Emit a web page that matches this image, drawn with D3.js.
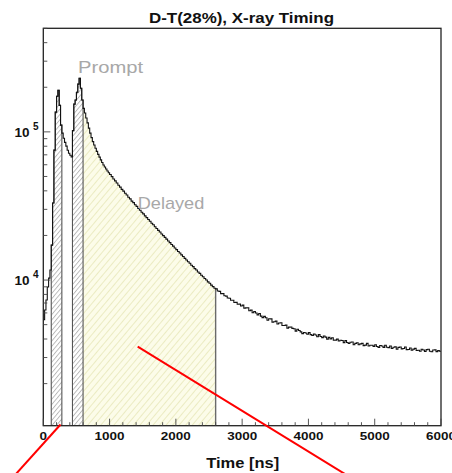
<!DOCTYPE html>
<html>
<head>
<meta charset="utf-8">
<script src="https://cdn.jsdelivr.net/npm/d3@7"></script>
<style>
  body { margin: 0; background: #fff; }
  text { font-family: "Liberation Sans", Arial, Helvetica, sans-serif; }
</style>
</head>
<body>
<svg id="chart" width="452" height="473"></svg>
<script>
// histogram counts: 0-1000 ns at 20 ns bins, 1000-6000 ns at 25 ns bins
var earlyStart = 0, earlyWidth = 20;
var earlyCounts = [
  5400, 6280, 7330, 8970, 10300, 11700, 17200, 33100, 75300, 136000,
  174000, 191000, 151000, 111000, 98000, 90600, 85000, 80100, 75100, 71800,
  69600, 67600, 102000, 154000, 164000, 185000, 210000, 230000, 197000, 164000,
  144000, 134000, 124000, 115000, 106000, 98000, 91500, 86000, 81500, 77500,
  73800, 70500, 67500, 64700, 62100, 59800, 57900, 56100, 54500, 53000
];
var lateStart = 1000, lateWidth = 25;
var lateCounts = [
  // 1000-2000
  51500, 49900, 48100, 46700, 45200, 43600, 42400, 40900, 39800, 38500,
  37500, 36200, 35300, 34100, 33300, 32200, 31400, 30400, 29600, 28700,
  27950, 27100, 26400, 25600, 24950, 24200, 23600, 22900, 22300, 21650,
  21100, 20450, 19950, 19400, 18900, 18330, 17900, 17370, 16950, 16450,
  // 2000-3000
  16050, 15580, 15210, 14780, 14420, 14010, 13670, 13280, 12970, 12600,
  12310, 11950, 11680, 11340, 11100, 10780, 10530, 10240, 10010, 9720,
  9510, 9240, 9030, 8800, 8720, 8440, 8380, 8100, 8100, 7830,
  7790, 7560, 7540, 7300, 7300, 7060, 7070, 6870, 6880, 6680,
  // 3000-4000
  6770, 6460, 6490, 6500, 6200, 6270, 6010, 6140, 5990, 5820,
  5940, 5710, 5580, 5690, 5570, 5360, 5480, 5470, 5200, 5230,
  5280, 5050, 5130, 5150, 4940, 4930, 4960, 4740, 4810, 4820,
  4720, 4690, 4520, 4650, 4570, 4470, 4350, 4430, 4390, 4310,
  // 4000-5000
  4420, 4280, 4220, 4320, 4260, 4140, 4280, 4160, 4090, 4190,
  4120, 3990, 4100, 4010, 4080, 3920, 3930, 3990, 3880, 3920,
  3910, 3780, 3900, 3790, 3730, 3800, 3820, 3660, 3740, 3770,
  3660, 3710, 3740, 3610, 3640, 3740, 3590, 3630, 3630, 3570,
  // 5000-6000
  3660, 3560, 3510, 3620, 3590, 3510, 3630, 3520, 3500, 3590,
  3450, 3520, 3540, 3410, 3510, 3530, 3430, 3450, 3530, 3390,
  3400, 3480, 3360, 3420, 3460, 3350, 3360, 3310, 3410, 3370,
  3300, 3390, 3410, 3310, 3280, 3370, 3380, 3290, 3340, 3310
];

var promptWindows = [[120, 280], [440, 600]];
var delayedWindow = [600, 2600];

var xDomain = [0, 6000];
var yDomain = [1040, 500000];
var xTickLabels = [0, 1000, 2000, 3000, 4000, 5000, 6000];
var yTickLabels = [1e4, 1e5];

var labelText = ["Prompt", "Delayed"];
var labelTime = [525, 1425];
var labelCount = [248000, 30000];

// red annotation strokes, [time, counts] pairs
var redStrokes = [
  [[260, 1060], [-440, 476]],
  [[1424, 3550], [4600, 476]]
];

var svg = d3.select("#chart");
var frameL = 43.3, frameR = 441, frameT = 28.3, frameB = 425.7;

var x = d3.scaleLinear().domain(xDomain).range([frameL, frameR]);
var y = d3.scaleLog().domain(yDomain).range([frameB, frameT]);

// build bins
var bins = [];
function addBins(start, width, counts) {
  counts.forEach(function(v, i) {
    bins.push({x0: start + i * width, x1: start + (i + 1) * width, v: v});
  });
}
addBins(earlyStart, earlyWidth, earlyCounts);
addBins(lateStart, lateWidth, lateCounts);

var defs = svg.append("defs");

var hg = defs.append("pattern")
    .attr("id", "hatchGray")
    .attr("patternUnits", "userSpaceOnUse")
    .attr("width", 3.4).attr("height", 3.4)
    .attr("patternTransform", "rotate(40)");
hg.append("rect").attr("width", 3.4).attr("height", 3.4).attr("fill", "#fff");
hg.append("line").attr("x1", 0.5).attr("y1", 0).attr("x2", 0.5).attr("y2", 3.4)
    .attr("stroke", "#a4a4a4").attr("stroke-width", 0.75);

var hy = defs.append("pattern")
    .attr("id", "hatchYellow")
    .attr("patternUnits", "userSpaceOnUse")
    .attr("width", 5).attr("height", 5)
    .attr("patternTransform", "rotate(40)");
hy.append("rect").attr("width", 5).attr("height", 5).attr("fill", "#fcfce9");
hy.append("line").attr("x1", 0.5).attr("y1", 0).attr("x2", 0.5).attr("y2", 5)
    .attr("stroke", "#e9e9bd").attr("stroke-width", 0.9);

defs.append("clipPath").attr("id", "frameClip")
  .append("rect").attr("x", frameL).attr("y", frameT)
    .attr("width", frameR - frameL).attr("height", frameB - frameT);

function windowPoints(w) {
  var pts = [[x(w[0]), frameB]];
  bins.forEach(function(b) {
    if (b.x1 <= w[0] || b.x0 >= w[1]) return;
    var a = Math.max(b.x0, w[0]), c = Math.min(b.x1, w[1]);
    pts.push([x(a), y(b.v)], [x(c), y(b.v)]);
  });
  pts.push([x(w[1]), frameB]);
  return pts;
}

var line = d3.line();
var plot = svg.append("g").attr("clip-path", "url(#frameClip)");

// delayed window
plot.append("path")
    .attr("d", line(windowPoints(delayedWindow)))
    .attr("fill", "url(#hatchYellow)")
    .attr("stroke", "none");
plot.append("line")
    .attr("x1", x(delayedWindow[1])).attr("x2", x(delayedWindow[1]))
    .attr("y1", frameB).attr("y2", y(bins.find(function(b) { return b.x1 >= delayedWindow[1]; }).v))
    .attr("stroke", "#6a6a6a").attr("stroke-width", 1.4);

// prompt windows
promptWindows.forEach(function(w) {
  plot.append("path")
      .attr("d", line(windowPoints(w)) + "Z")
      .attr("fill", "url(#hatchGray)")
      .attr("stroke", "#555").attr("stroke-width", 1.1);
});

// main histogram outline
var steps = [];
bins.forEach(function(b) { steps.push([x(b.x0), y(b.v)], [x(b.x1), y(b.v)]); });
plot.append("path")
    .attr("d", line(steps))
    .attr("fill", "none")
    .attr("stroke", "#111")
    .attr("stroke-width", 1.1);

// frame
svg.append("rect")
    .attr("x", frameL).attr("y", frameT)
    .attr("width", frameR - frameL).attr("height", frameB - frameT)
    .attr("fill", "none").attr("stroke", "#222").attr("stroke-width", 1.3);

// x ticks
var xMinor = x.ticks(24);
svg.append("g").selectAll("line").data(xMinor).join("line")
    .attr("x1", d => x(d)).attr("x2", d => x(d))
    .attr("y1", frameB).attr("y2", d => frameB - (d % 1000 === 0 ? 7 : 3.5))
    .attr("stroke", "#444").attr("stroke-width", 0.9);

svg.append("g").selectAll("text").data(xTickLabels).join("text")
    .attr("x", d => x(d)).attr("y", 440)
    .attr("text-anchor", "middle")
    .attr("font-weight", "bold").attr("font-size", 11.8)
    .attr("textLength", d => d === 0 ? 7.5 : 30)
    .attr("lengthAdjust", "spacingAndGlyphs")
    .attr("fill", "#111")
    .text(d => d);

// y ticks
var yMinor = y.ticks().filter(d => d >= yDomain[0] && d <= yDomain[1]);
svg.append("g").selectAll("line").data(yMinor).join("line")
    .attr("x1", frameL).attr("x2", d => frameL + (yTickLabels.indexOf(d) >= 0 ? 7 : 4))
    .attr("y1", d => y(d)).attr("y2", d => y(d))
    .attr("stroke", "#444").attr("stroke-width", 0.9);

var yl = svg.append("g").selectAll("g").data(yTickLabels).join("g");
yl.append("text")
    .attr("x", 29.5).attr("y", d => y(d) + 4.8)
    .attr("text-anchor", "end")
    .attr("font-weight", "bold").attr("font-size", 12.5)
    .attr("textLength", 15).attr("lengthAdjust", "spacingAndGlyphs")
    .attr("fill", "#111")
    .text("10");
yl.append("text")
    .attr("x", 33).attr("y", d => y(d) - 2)
    .attr("font-weight", "bold").attr("font-size", 10)
    .attr("fill", "#111")
    .text(d => Math.round(Math.log10(d)));

// title and axis title
svg.append("text")
    .attr("x", 241.5).attr("y", 22.7)
    .attr("text-anchor", "middle")
    .attr("font-weight", "bold").attr("font-size", 14.5)
    .attr("textLength", 185).attr("lengthAdjust", "spacingAndGlyphs")
    .attr("fill", "#111")
    .text("D-T(28%), X-ray Timing");

svg.append("text")
    .attr("x", 242.7).attr("y", 467.5)
    .attr("text-anchor", "middle")
    .attr("font-weight", "bold").attr("font-size", 15.5)
    .attr("textLength", 73).attr("lengthAdjust", "spacingAndGlyphs")
    .attr("fill", "#111")
    .text("Time [ns]");

// region labels
svg.append("g").selectAll("text").data(labelText).join("text")
    .attr("x", (d, i) => x(labelTime[i]))
    .attr("y", (d, i) => y(labelCount[i]))
    .attr("font-family", "Roboto, 'DejaVu Sans', sans-serif")
    .attr("font-weight", 300).attr("font-size", 17)
    .attr("textLength", (d, i) => i === 0 ? 65 : 66.5)
    .attr("lengthAdjust", "spacingAndGlyphs")
    .attr("fill", "#a8a8a8")
    .text(d => d);

// red annotation strokes
svg.append("g").selectAll("line").data(redStrokes).join("line")
    .attr("x1", d => x(d[0][0])).attr("y1", d => y(d[0][1]))
    .attr("x2", d => x(d[1][0])).attr("y2", d => y(d[1][1]))
    .attr("stroke", "#f00").attr("stroke-width", 2);
</script>
</body>
</html>
